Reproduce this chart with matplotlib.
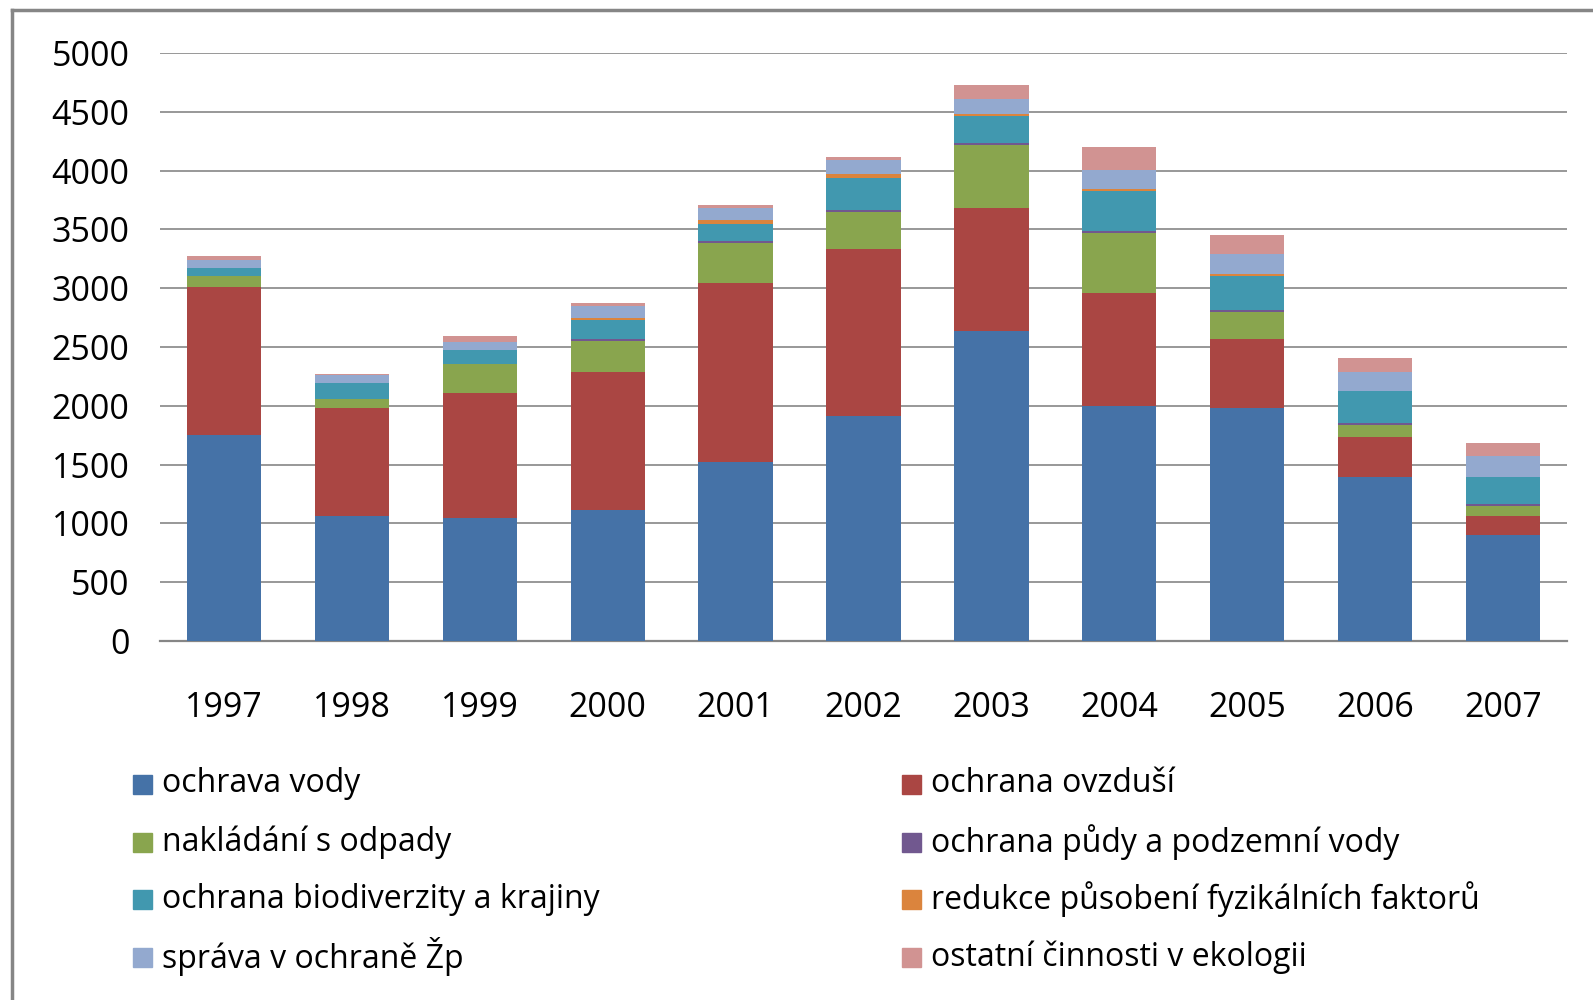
import numpy as np
import matplotlib
matplotlib.use("Agg")
import matplotlib.pyplot as plt
from matplotlib.lines import Line2D
from matplotlib.patches import Rectangle

plt.rcParams["font.family"] = ["Open Sans", "DejaVu Sans"]

years = ["1997", "1998", "1999", "2000", "2001", "2002", "2003", "2004", "2005", "2006", "2007"]

labels = [
    "ochrava vody",
    "ochrana ovzduší",
    "nakládání s odpady",
    "ochrana půdy a podzemní vody",
    "ochrana biodiverzity a krajiny",
    "redukce působení fyzikálních faktorů",
    "správa v ochraně Žp",
    "ostatní činnosti v ekologii",
]

voda = [1750, 1063, 1046, 1111, 1520, 1913, 2634, 1998, 1981, 1392, 899]
ovzdusi = [1258, 915, 1060, 1174, 1522, 1418, 1045, 959, 584, 340, 161]
odpady = [93, 77, 247, 263, 340, 313, 536, 510, 230, 102, 85]
puda = [0, 0, 0, 17, 17, 17, 17, 17, 17, 17, 17]
biodiverzita = [67, 136, 125, 162, 144, 273, 229, 340, 292, 272, 230]
fyzikalni = [0, 0, 0, 17, 34, 34, 17, 17, 17, 0, 0]
sprava = [69, 68, 68, 105, 105, 120, 128, 162, 170, 162, 181]
ostatni = [34, 9, 51, 23, 23, 25, 119, 195, 159, 119, 108]

series = [voda, ovzdusi, odpady, puda, biodiverzita, fyzikalni, sprava, ostatni]
colors = ["#4572A7", "#AA4643", "#89A54E", "#71588F",
          "#4198AF", "#DB843D", "#93A9CF", "#D19392"]

W, H = 1593, 1000
fig = plt.figure(figsize=(W / 100, H / 100), dpi=100)
ax = fig.add_axes([160 / W, 1 - 641 / H, 1407 / W, (641 - 53) / H])

x = np.arange(len(years))
bottom = np.zeros(len(years))
for vals, c in zip(series, colors):
    ax.bar(x, vals, bottom=bottom, width=0.58, color=c, zorder=3)
    bottom += np.array(vals)

ax.set_xlim(-0.5, len(years) - 0.5)
ax.set_ylim(0, 5000)
ax.set_yticks(np.arange(0, 5001, 500))
ax.set_xticks(x)
ax.set_xticklabels(years)
ax.yaxis.grid(True, color="#868686", linewidth=1.2, zorder=0)
for s in ["top", "right", "left"]:
    ax.spines[s].set_visible(False)
ax.spines["bottom"].set_color("#868686")
ax.spines["bottom"].set_linewidth(1.6)
ax.tick_params(axis="both", length=0, labelsize=24.5, colors="black")
ax.tick_params(axis="y", pad=22)
ax.tick_params(axis="x", pad=36)

# legend, row-major like the original
col_x = [133 / W, 902 / W]
row_y = [784, 842, 899, 957]
sq = 19
for i, (lab, c) in enumerate(zip(labels, colors)):
    r, col = divmod(i, 2)
    yc = row_y[r]
    fig.patches.append(Rectangle((col_x[col], 1 - (yc + sq / 2) / H), sq / W, sq / H,
                                 transform=fig.transFigure, color=c))
    fig.text(col_x[col] + 29 / W, 1 - yc / H, lab, fontsize=23, va="center", ha="left")

# chart area border (left and top)
fig.lines.append(Line2D([12 / W, 12 / W], [0, 1 - 10 / H], transform=fig.transFigure,
                        color="#868686", linewidth=2.5))
fig.lines.append(Line2D([12 / W, 1], [1 - 10 / H, 1 - 10 / H], transform=fig.transFigure,
                        color="#868686", linewidth=2.5))

fig.savefig("out.png", dpi=100)
